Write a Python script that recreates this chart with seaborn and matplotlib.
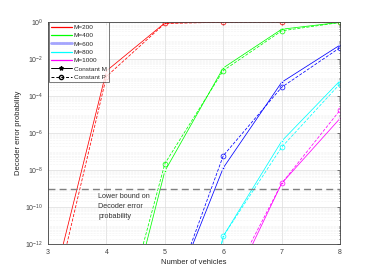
import numpy as np
import pandas as pd
import seaborn as sns
import matplotlib.pyplot as plt
from matplotlib.lines import Line2D
from matplotlib.ticker import LogLocator, NullFormatter

# Decoder error probability
labels = ["M=200", "M=400", "M=600", "M=800", "M=1000"]
colors = ["#ff0000", "#00ff00", "#0000ff", "#00ffff", "#ff00ff"]

x_200 = [3, 4, 5, 6, 7, 8]
const_m_200 = [5e-16, 2.2e-3, 0.85, 0.95, 0.97, 0.98]
const_p_200 = [5e-17, 1.1e-3, 0.80, 0.93, 0.95, 0.97]

x_400 = [4, 5, 6, 7, 8]
const_m_400 = [4e-21, 8.7e-9, 3.2e-3, 0.39, 0.92]
const_p_400 = [4e-20, 2.2e-8, 2.3e-3, 0.32, 0.90]

x_600 = [5, 6, 7, 8]
const_m_600 = [1.6e-16, 1.3e-8, 5.4e-4, 0.055]
const_p_600 = [1.3e-16, 5.9e-8, 2.9e-4, 0.040]

x_800 = [5, 6, 7, 8]
const_m_800 = [3e-26, 2.7e-12, 3.6e-7, 6.6e-4]
const_p_800 = [3e-27, 2.7e-12, 1.7e-7, 4.5e-4]

x_1000 = [6, 7, 8]
const_m_1000 = [5e-16, 1.9e-9, 6.1e-6]
const_p_1000 = [1.6e-15, 1.9e-9, 1.7e-5]

lower_bound = 9.3e-10

xs = [x_200, x_400, x_600, x_800, x_1000]
const_m = [const_m_200, const_m_400, const_m_600, const_m_800, const_m_1000]
const_p = [const_p_200, const_p_400, const_p_600, const_p_800, const_p_1000]

rows = []
for lab, x, m, p in zip(labels, xs, const_m, const_p):
    for xi, v in zip(x, m):
        rows.append({"vehicles": xi, "prob": v, "M": lab, "scheme": "Constant M"})
    for xi, v in zip(x, p):
        rows.append({"vehicles": xi, "prob": v, "M": lab, "scheme": "Constant P"})
df = pd.DataFrame(rows)

sns.set_style("white")
plt.rcParams["font.family"] = ["Liberation Sans", "DejaVu Sans"]

fig = plt.figure(figsize=(3.75, 2.74), dpi=100)
ax = fig.add_axes([0.128, 0.109, 0.779, 0.812])

for lab, col in zip(labels, colors):
    d = df[(df["M"] == lab) & (df["scheme"] == "Constant M")]
    sns.lineplot(data=d, x="vehicles", y="prob", ax=ax, color=col, lw=0.55,
                 marker="*", markersize=3.5, markeredgewidth=0.5, legend=False)
    d = df[(df["M"] == lab) & (df["scheme"] == "Constant P")]
    sns.lineplot(data=d, x="vehicles", y="prob", ax=ax, color=col, lw=0.55,
                 linestyle=(0, (4, 2)), marker="o", markersize=3.5,
                 markerfacecolor="none", markeredgecolor=col,
                 markeredgewidth=0.5, legend=False)

ax.axhline(lower_bound, color="#808080", lw=1.0, ls=(0, (5, 3)))
ax.text(3.86, 5.5e-10, "Lower bound on\nDecoder error\nprobability",
        fontsize=5.2, va="top", ha="left", color="#333333", linespacing=1.6)

ax.set_yscale("log")
ax.set_xlim(3, 8)
ax.set_ylim(1e-12, 1)
ax.set_xticks([3, 4, 5, 6, 7, 8])
ax.set_yticks([10.0 ** k for k in range(-12, 1, 2)])
ax.yaxis.set_minor_locator(LogLocator(base=10, subs=np.arange(2, 10), numticks=30))
ax.yaxis.set_minor_formatter(NullFormatter())

ax.grid(True, which="major", color="#dcdcdc", lw=0.5)
ax.grid(True, which="minor", axis="y", color="#e6e6e6", lw=0.4, ls=":")
ax.tick_params(axis="both", which="both", direction="in", labelsize=5,
               colors="#404040", length=2, width=0.5, top=True, right=True)
ax.tick_params(axis="y", which="minor", length=1)
for s in ax.spines.values():
    s.set_color("#404040")
    s.set_linewidth(0.6)

ax.set_xlabel("Number of vehicles", fontsize=5.5, color="#262626", labelpad=2)
ax.set_ylabel("Decoder error probability", fontsize=5.5, color="#262626", labelpad=2)

handles = [Line2D([], [], color=c, lw=0.9) for c in colors]
handles[2] = Line2D([], [], color="#0000ff", lw=2, alpha=0.35)
handles.append(Line2D([], [], color="black", lw=0.7, marker="*", markersize=3))
handles.append(Line2D([], [], color="black", lw=0.7, ls=(0, (3, 2)), marker="o",
                      markersize=3, markerfacecolor="none"))
leg = ax.legend(handles, labels + ["Constant M", "Constant P"], loc="upper left",
                fontsize=4.6, frameon=True, fancybox=False, borderaxespad=0.1,
                handlelength=3.3, labelspacing=0.45, borderpad=0.35, handletextpad=0.3)
leg.get_frame().set_edgecolor("#404040")
leg.get_frame().set_linewidth(0.6)

plt.savefig("out.png", dpi=100)
